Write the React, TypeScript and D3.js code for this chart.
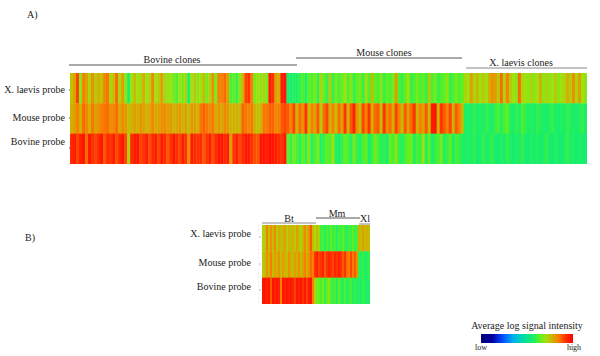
import React from "react";
import * as d3 from "d3";

// Values are on a 0-100 "average log signal intensity" scale, read per stripe.
const aXlaevisBt = [75,80,90,68,84,80,72,82,74,78,75,83,85,72,75,86,72,80,68,57,70,76,70,72,78,70,72,83,70,74,80,72,68,70,66,62,70,66,72,57,70,74,68,
  70,76,66,72,82,66,84,84,86,80,62,64,60,68,78,90,92,84,66,70,68,72,66,95,92,80,78,95,96];
const aMouseBt = [78,80,84,78,86,83,78,85,80,82,84,85,86,82,83,86,79,83,81,76,78,80,78,81,80,78,79,83,79,80,82,83,80,81,78,79,81,78,80,76,81,80,78,
  85,87,85,83,85,79,81,79,83,81,77,78,78,77,87,85,83,85,77,75,77,85,85,87,87,83,84,88,90];
const aBovineBt = [93,95,90,94,96,86,96,92,90,93,96,88,93,92,95,89,93,96,90,72,93,95,96,90,92,95,89,93,95,90,95,93,88,92,96,93,90,95,92,82,95,93,92,
  93,88,92,95,89,93,96,96,93,95,80,92,95,90,93,96,95,92,89,88,96,96,95,98,96,95,93,92,96];

const aXlaevisMm = [56,56,58,57,60,62,58,64,62,66,60,72,64,60,74,60,66,62,64,70,62,68,60,64,66,60,70,62,76,64,62,68,60,64,62,66,80,62,60,64,70,60,62,66,62,64,60,74,62,66,60,62,64,68,60,62,66,62,64];
const aMouseMm = [88,84,90,78,86,82,92,76,84,80,88,74,86,90,78,84,76,86,80,92,78,88,94,82,76,90,84,92,78,86,88,76,92,82,86,78,90,84,76,88,80,86,92,78,84,80,88,76,95,96,78,92,88,84,90,78,88,84,76];
const aBovineMm = [64,60,66,62,58,64,60,68,58,62,66,58,60,64,62,70,58,56,60,64,62,58,66,60,58,62,64,56,60,66,62,58,60,56,64,62,68,60,58,62,64,66,58,62,60,70,58,64,56,60,62,66,58,60,64,56,62,60,58];

const aXlaevisXl = [72,70,80,72,76,70,74,70,78,82,80,74,86,72,84,74,70,68,86,72,70,68,72,68,70,78,68,72,68,70,74,68,70,72,78,74,82,72,80,70,68];
const aMouseXl = [57,58,56,60,57,58,56,60,58,56,60,62,58,62,64,58,56,60,58,62,60,57,58,56,60,58,57,56,58,60,57,56,58,57,60,58,57,56,58,60,57];
const aBovineXl = [56,58,56,60,55,57,60,56,58,60,56,55,58,56,60,57,55,58,56,60,56,55,58,56,58,55,57,60,56,55,58,56,55,57,60,56,58,55,57,56,55];

const bXlaevisBt = [72,74,84,76,82,76,83,74,78,76,77,80,74,77,76,78,74,80,76,72,78,83,76,82,88,76];
const bMouseBt = [74,76,82,78,84,76,80,78,82,76,80,78,76,82,78,76,80,78,82,76,80,84,78,82,86,84];
const bBovineBt = [96,96,94,96,88,96,94,96,94,84,96,94,96,94,96,94,90,96,94,96,92,96,90,96,96,84];

const bXlaevisMm = [70,76,72,60,62,58,62,60,64,60,62,58,62,60,64,60,58,62,60,64,60,62];
const bMouseMm = [92,94,90,92,94,88,92,94,92,90,94,92,94,92,88,92,86,84,90,84,88,82];
const bBovineMm = [72,66,64,62,66,60,64,68,62,60,62,58,64,60,58,62,58,60,62,58,60,58];

const bXlaevisXl = [78,76,80,76,78,76];
const bMouseXl = [60,58,60,57,58,60];
const bBovineXl = [58,57,60,58,57,58];

const probes = ["X. laevis probe", "Mouse probe", "Bovine probe"];
const legendStops = [0, 12, 22, 35, 47, 58, 64, 70, 78, 84, 92, 100];
const legendColors = ["#00007a", "#00009a", "#0040ff", "#00b0f0", "#00e0a0", "#20f060", "#60f020", "#a0e010", "#d0b000", "#f88000", "#ff3000", "#ff0000"];
const color = d3.scaleLinear<string>().domain(legendStops).range(legendColors).interpolate(d3.interpolateRgb);

const aRows = [
  [...aXlaevisBt, ...aXlaevisMm, ...aXlaevisXl],
  [...aMouseBt, ...aMouseMm, ...aMouseXl],
  [...aBovineBt, ...aBovineMm, ...aBovineXl],
];
const bRows = [
  [...bXlaevisBt, ...bXlaevisMm, ...bXlaevisXl],
  [...bMouseBt, ...bMouseMm, ...bMouseXl],
  [...bBovineBt, ...bBovineMm, ...bBovineXl],
];

const serif = "'Liberation Serif', serif";

function Heat({ rows, x0, x1, y0, y1, id }: { rows: number[][]; x0: number; x1: number; y0: number; y1: number; id: string }) {
  const x = d3.scaleLinear().domain([0, rows[0].length]).range([x0, x1]);
  const y = d3.scaleBand<number>().domain([0, 1, 2]).range([y0, y1]);
  return (
    <g filter={`url(#${id})`}>
      {rows.map((row, r) =>
        row.map((v, c) => (
          <rect key={`${r}-${c}`} x={x(c)} y={y(r)!} width={x(c + 1) - x(c) + (c < row.length - 1 ? 0.4 : 0)} height={y.bandwidth() + (r < 2 ? 0.4 : 0)} fill={color(v)} />
        ))
      )}
    </g>
  );
}

const T = (p: any) => <text fontFamily={serif} fontSize={10} fill="#222" {...p} />;
const L = (p: any) => <line stroke="#555" strokeWidth={1} {...p} />;

export default function App() {
  const legendX = d3.scaleLinear().domain([0, 100]).range([481, 573]);
  return (
    <svg width={600} height={356} style={{ position: "absolute", left: 0, top: 0 }}>
      <defs>
        <filter id="soft" x="-2%" y="-2%" width="104%" height="104%">
          <feGaussianBlur stdDeviation="0.45 0.2" />
        </filter>
        <linearGradient id="legend">
          {legendStops.map((s, i) => (
            <stop key={s} offset={`${s}%`} stopColor={legendColors[i]} />
          ))}
        </linearGradient>
      </defs>

      <T x={27} y={18}>A)</T>
      <T x={25} y={241}>B)</T>

      <T x={172} y={63} textAnchor="middle">Bovine clones</T>
      <L x1={69} x2={297} y1={65} y2={65} />
      <T x={384} y={56} textAnchor="middle">Mouse clones</T>
      <L x1={296} x2={462} y1={58} y2={58} />
      <T x={521} y={66} textAnchor="middle">X. laevis clones</T>
      <L x1={466} x2={587} y1={68} y2={68} stroke="#888" />

      <Heat rows={aRows} x0={70} x1={587} y0={73} y1={164} id="soft" />
      {[90, 118, 148].map((y) => (
        <line key={y} x1={69} x2={70} y1={y} y2={y} stroke="#aaa" strokeWidth={2} />
      ))}
      {probes.map((p, i) => (
        <T key={p} x={65} y={[93, 121, 145][i]} textAnchor="end">{p}</T>
      ))}

      <T x={289} y={222} textAnchor="middle">Bt</T>
      <L x1={262} x2={316} y1={223} y2={223} stroke="#888" />
      <T x={337} y={217} textAnchor="middle">Mm</T>
      <L x1={316} x2={360} y1={218} y2={218} />
      <T x={365} y={222} textAnchor="middle">Xl</T>
      <L x1={359} x2={370} y1={224} y2={224} stroke="#888" />

      <Heat rows={bRows} x0={262} x1={370} y0={225} y1={304} id="soft" />
      <line x1={258.5} x2={258.5} y1={225} y2={304} stroke="#ddd" strokeDasharray="1 3" />
      {[237, 264, 290].map((y) => (
        <line key={y} x1={259} x2={261} y1={y} y2={y} stroke="#bbb" />
      ))}
      {probes.map((p, i) => (
        <T key={p + "b"} x={251} y={[237, 266, 290][i]} textAnchor="end">{p}</T>
      ))}

      <T x={527} y={329} textAnchor="middle">Average log signal intensity</T>
      <rect x={legendX(0)} y={334} width={legendX(100) - legendX(0)} height={9} fill="url(#legend)" />
      <T x={481} y={350} textAnchor="middle" fontSize={8}>low</T>
      <T x={574} y={350} textAnchor="middle" fontSize={8}>high</T>
    </svg>
  );
}
